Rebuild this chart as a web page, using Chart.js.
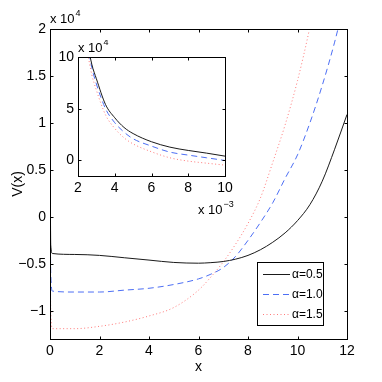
<!DOCTYPE html>
<html>
<head>
<meta charset="utf-8">
<script src="https://cdn.jsdelivr.net/npm/chart.js@4.4.0/dist/chart.umd.min.js"></script>
<style>
  html, body { margin: 0; padding: 0; background: #fff; }
  #wrap { position: relative; width: 382px; height: 382px; }
  #mainChart { position: absolute; left: 0; top: 0; }
  #insetChart { position: absolute; left: 30px; top: 40px; }
</style>
</head>
<body>
<div id="wrap">
  <canvas id="mainChart" width="382" height="382"></canvas>
  <canvas id="insetChart" width="220" height="180"></canvas>
</div>
<script>
const seriesLabels = ["α=0.5", "α=1.0", "α=1.5"];
const seriesColors = ["#1a1a1a", "#4d6ff5", "#ff7a7a"];
const seriesDash = [[], [6, 4], [1, 2.5]];

// main plot: x, V(x) in units of 1e4
const xMain = [0.01, 0.03, 0.1, 1, 2, 3, 4, 5, 6, 6.5, 7, 7.5, 8, 8.5, 9, 9.5, 10, 10.5, 11, 11.5, 12];
const vMainA05 = [0.35, -0.3, -0.39, -0.40, -0.41, -0.435, -0.46, -0.485, -0.493, -0.487, -0.475, -0.45, -0.41, -0.35, -0.27, -0.17, -0.04, 0.13, 0.38, 0.72, 1.09];
const vMainA10 = [0.0, -0.6, -0.79, -0.80, -0.80, -0.78, -0.76, -0.72, -0.66, -0.61, -0.54, -0.42, -0.25, -0.06, 0.15, 0.41, 0.66, 1.0, 1.4, 1.86, 2.4];
const vMainA15 = [-0.45, -1.0, -1.19, -1.19, -1.165, -1.12, -1.055, -0.965, -0.78, -0.64, -0.48, -0.29, -0.07, 0.2, 0.58, 0.98, 1.45, 2.02, 2.7, 3.4, 4.2];
const xTicksMain = [0, 2, 4, 6, 8, 10, 12];
const yTicksMain = [-1, -0.5, 0, 0.5, 1, 1.5, 2];

// inset: x in units of 1e-3, V(x) in units of 1e4
const xInset = [2.5, 2.75, 3, 3.5, 4, 4.5, 5, 6, 7, 8, 9, 10];
const vInsetA05 = [11.5, 9.3, 7.9, 5.4, 4.13, 3.2, 2.6, 1.81, 1.29, 0.97, 0.71, 0.42];
const vInsetA10 = [11.3, 9.0, 7.4, 5.0, 3.65, 2.75, 2.1, 1.39, 0.81, 0.52, 0.26, 0.0];
const vInsetA15 = [10.6, 8.3, 6.8, 4.4, 3.1, 2.2, 1.6, 0.84, 0.26, -0.06, -0.26, -0.45];
const xTicksInset = [2, 4, 6, 8, 10];
const yTicksInset = [0, 5, 10];

const FONT = '"Liberation Sans Narrow", "Liberation Sans", Arial, sans-serif';

function fmt(v) {
  return v < 0 ? "\u2212" + Math.abs(v) : String(v);
}

function makeSets(xs, ys) {
  return ys.map((vals, i) => ({
    label: seriesLabels[i],
    data: xs.map((x, j) => ({ x: x, y: vals[j] })),
    borderColor: seriesColors[i],
    borderDash: seriesDash[i],
    borderWidth: 1,
    pointRadius: 0,
    fill: false,
    cubicInterpolationMode: "monotone",
  }));
}

const frame = {
  id: "frame",
  beforeDraw(chart) {
    const { ctx, chartArea: a } = chart;
    ctx.save();
    ctx.fillStyle = "#fff";
    ctx.fillRect(a.left, a.top, a.width, a.height);
    ctx.restore();
  },
  afterDraw(chart, args, opts) {
    const { ctx, chartArea: a, scales } = chart;
    const L = Math.round(a.left) + 0.5, R = Math.round(a.right) + 0.5;
    const T = Math.round(a.top) + 0.5, B = Math.round(a.bottom) + 0.5;
    ctx.save();
    ctx.strokeStyle = "#000";
    ctx.lineWidth = 1;
    ctx.setLineDash([]);
    ctx.strokeRect(L, T, R - L, B - T);
    ctx.beginPath();
    scales.x.ticks.forEach((t) => {
      const p = Math.round(scales.x.getPixelForValue(t.value)) + 0.5;
      ctx.moveTo(p, B); ctx.lineTo(p, B - opts.tick);
      ctx.moveTo(p, T); ctx.lineTo(p, T + opts.tick);
    });
    scales.y.ticks.forEach((t) => {
      const p = Math.round(scales.y.getPixelForValue(t.value)) + 0.5;
      ctx.moveTo(L, p); ctx.lineTo(L + opts.tick, p);
      ctx.moveTo(R, p); ctx.lineTo(R - opts.tick, p);
    });
    ctx.stroke();

    ctx.fillStyle = "#000";
    ctx.textBaseline = "alphabetic";
    ctx.textAlign = "left";
    (opts.notes || []).forEach((n) => {
      ctx.font = "13px " + FONT;
      ctx.fillText(n.base, n.x, n.y);
      const w = ctx.measureText(n.base).width;
      ctx.font = "9px " + FONT;
      ctx.fillText(n.exp, n.x + w + 1, n.y - 7);
    });

    const lg = opts.legend;
    if (lg) {
      ctx.fillStyle = "#fff";
      ctx.fillRect(lg.x, lg.y, lg.w, lg.h);
      ctx.strokeRect(lg.x + 0.5, lg.y + 0.5, lg.w, lg.h);
      ctx.font = "12px " + FONT;
      ctx.textBaseline = "middle";
      chart.data.datasets.forEach((ds, i) => {
        const y = Math.round(lg.y + lg.first + i * lg.step) + 0.5;
        ctx.strokeStyle = ds.borderColor;
        ctx.setLineDash(ds.borderDash);
        ctx.beginPath();
        ctx.moveTo(lg.x + 6, y);
        ctx.lineTo(lg.x + 33, y);
        ctx.stroke();
        ctx.fillStyle = "#000";
        ctx.fillText(ds.label, lg.x + 35, y);
      });
    }
    ctx.restore();
  },
};

function makeChart(id, o) {
  return new Chart(document.getElementById(id), {
    type: "line",
    data: { datasets: makeSets(o.xs, o.ys) },
    plugins: [frame],
    options: {
      responsive: false,
      animation: false,
      devicePixelRatio: 1,
      events: [],
      layout: { padding: o.padding },
      plugins: {
        legend: { display: false },
        tooltip: { enabled: false },
        frame: { tick: 3, notes: o.notes, legend: o.legend },
      },
      scales: {
        x: {
          type: "linear",
          min: o.xMin,
          max: o.xMax,
          afterBuildTicks: (s) => { s.ticks = o.xTicks.map((v) => ({ value: v })); },
          afterFit: (s) => { s.height = o.xHeight; },
          grid: { display: false, drawTicks: false },
          border: { display: false },
          ticks: { color: "#000", font: { family: FONT, size: 14 }, padding: 4, maxRotation: 0, autoSkip: false, callback: fmt },
          title: o.xTitle ? { display: true, text: o.xTitle, color: "#000", font: { family: FONT, size: 14 }, padding: { top: 0, bottom: 6 } } : { display: false },
        },
        y: {
          type: "linear",
          min: o.yMin,
          max: o.yMax,
          afterBuildTicks: (s) => { s.ticks = o.yTicks.map((v) => ({ value: v })); },
          afterFit: (s) => { s.width = o.yWidth; },
          grid: { display: false, drawTicks: false },
          border: { display: false },
          ticks: { color: "#000", font: { family: FONT, size: 14 }, padding: 4, autoSkip: false, callback: fmt },
          title: o.yTitle ? { display: true, text: o.yTitle, color: "#000", font: { family: FONT, size: 14 }, padding: { top: 10, bottom: 0 } } : { display: false },
        },
      },
    },
  });
}

makeChart("mainChart", {
  xs: xMain,
  ys: [vMainA05, vMainA10, vMainA15],
  xMin: 0, xMax: 12, yMin: -1.3, yMax: 2,
  xTicks: xTicksMain, yTicks: yTicksMain,
  padding: { left: 0, top: 29, right: 35, bottom: 0 },
  xHeight: 43, yWidth: 50,
  xTitle: "x", yTitle: "V(x)",
  notes: [{ base: "x 10", exp: "4", x: 50, y: 23 }],
  legend: { x: 257, y: 262, w: 66, h: 63, first: 12, step: 20 },
});

makeChart("insetChart", {
  xs: xInset,
  ys: [vInsetA05, vInsetA10, vInsetA15],
  xMin: 2, xMax: 10, yMin: -1.5, yMax: 10,
  xTicks: xTicksInset, yTicks: yTicksInset,
  padding: { left: 0, top: 17, right: 25, bottom: 0 },
  xHeight: 44, yWidth: 48,
  notes: [
    { base: "x 10", exp: "4", x: 48, y: 12 },
    { base: "x 10", exp: "\u22123", x: 168, y: 174 },
  ],
});
</script>
</body>
</html>
